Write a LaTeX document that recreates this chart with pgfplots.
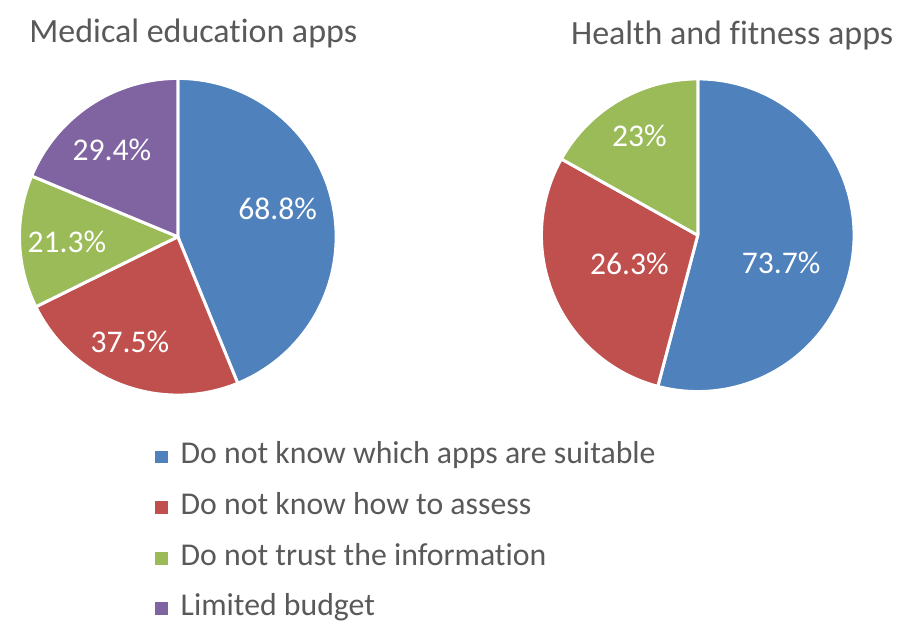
\documentclass[border=0pt]{standalone}
\usepackage{fontspec}
\setmainfont{Carlito}[RawFeature={-liga;-clig;-calt;-dlig}]
\usepackage{pgfplots}
\usepackage{pgfplotstable}
\pgfplotsset{compat=1.18}

\definecolor{c0}{HTML}{4F81BD}
\definecolor{c1}{HTML}{C0504D}
\definecolor{c2}{HTML}{9BBB59}
\definecolor{c3}{HTML}{8064A2}
\definecolor{txt}{HTML}{595959}

% value = slice size, label = printed value, lx/ly = label centre (px)
\pgfplotstableread{
value label lx ly
68.8 68.8 278 416
37.5 37.5 130 283
21.3 21.3 67 383
29.4 29.4 112 475
}\medtable
\pgfplotstableread{
value label lx ly
73.7 73.7 782 362
39.5 26.3 630 361
23.0 23 640 489
}\fittable

% #1 table, #2/#3 centre, #4 radius (all in px)
\newcommand{\piechart}[4]{%
  \pgfplotstablegetrowsof{#1}\pgfmathtruncatemacro\nlast{\pgfplotsretval-1}%
  \xdef\tot{0}%
  \foreach \i in {0,...,\nlast}{%
    \pgfplotstablegetelem{\i}{value}\of#1%
    \pgfmathparse{\tot+\pgfplotsretval}\xdef\tot{\pgfmathresult}}%
  \xdef\ang{90}%
  \foreach \i in {0,...,\nlast}{%
    \pgfplotstablegetelem{\i}{value}\of#1%
    \pgfmathsetmacro\stop{\ang-\pgfplotsretval/\tot*360}%
    \filldraw[fill=c\i, draw=white, line width=1.5pt, line join=round]
      (axis cs:#2,#3) -- ++(\ang:#4*0.5pt)
      arc[start angle=\ang, end angle=\stop, radius=#4*0.5pt] -- cycle;
    \xdef\ang{\stop}}%
  \foreach \i in {0,...,\nlast}{%
    \pgfplotstablegetelem{\i}{label}\of#1\let\lab\pgfplotsretval
    \pgfplotstablegetelem{\i}{lx}\of#1\let\lx\pgfplotsretval
    \pgfplotstablegetelem{\i}{ly}\of#1\let\ly\pgfplotsretval
    \node[white, font=\fontsize{15.8}{18}\selectfont] at (axis cs:\lx,\ly) {\lab\%};}%
}

\begin{document}
\begin{tikzpicture}
\begin{axis}[
    x=0.5pt, y=0.5pt,
    xmin=0, xmax=900, ymin=0, ymax=625,
    hide axis, clip=false
]
\pgfplotsextra{
  \path (axis cs:0,0) rectangle (axis cs:900,625);
  \piechart{\medtable}{178}{388}{158.5}
  \piechart{\fittable}{698.5}{389.5}{156.5}
  % titles
  \node[txt, anchor=base, font=\fontsize{17}{20}\selectfont]
    at (axis cs:193.5,582) {Medical education apps};
  \node[txt, anchor=base, font=\fontsize{17}{20}\selectfont]
    at (axis cs:733,580) {Health and fitness apps};
  % legend
  \foreach \t [count=\k from 0] in {Do not know which apps are suitable,
      Do not know how to assess, Do not trust the information, Limited budget}{
    \pgfmathsetmacro\b{160.5-50.7*\k}
    \fill[c\k] (axis cs:155.5,\b+0.5) rectangle (axis cs:168.5,\b+13.5);
    \node[txt, anchor=base west, inner sep=0pt, font=\fontsize{15.9}{18}\selectfont]
      at (axis cs:180.5,\b) {\t};
  }
}
\end{axis}
\end{tikzpicture}
\end{document}
